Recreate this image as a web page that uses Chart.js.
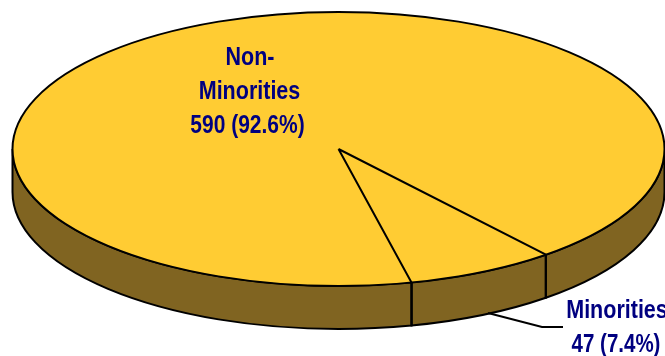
<!DOCTYPE html>
<html>
<head>
<meta charset="utf-8">
<title>Minorities pie</title>
<script src="https://cdn.jsdelivr.net/npm/chart.js@4"></script>
<style>
html, body { margin: 0; padding: 0; background: #fff; }
canvas { display: block; }
</style>
</head>
<body>
<canvas id="pieChart" width="665" height="356"></canvas>
<script>
const categories = ['Minorities', 'Non-Minorities'];
const counts = [47, 590];
const percents = ['7.4', '92.6'];
const topColors = ['#FFCC33', '#FFCC33'];
const sideColors = ['#806421', '#806421'];

// the pie is drawn flat by Chart.js, this tilts it and adds the wall
const SQUASH = 137 / 326;
const DEPTH = 43;

// narrow bold text, the original font is tighter than Liberation Sans
function narrowText(ctx, text, x, y, sx) {
    ctx.save();
    ctx.translate(x, y);
    ctx.scale(sx, 1);
    ctx.fillText(text, 0, 0);
    ctx.restore();
}

const tiltedPie = {
    id: 'tiltedPie',
    beforeDatasetsDraw(chart) {
        const ctx = chart.ctx;
        const arcs = chart.getDatasetMeta(0).data;
        const cx = arcs[0].x, cy = arcs[0].y, rx = arcs[0].outerRadius, ry = rx * SQUASH;
        ctx.save();
        ctx.lineWidth = 2;
        ctx.strokeStyle = '#000';
        arcs.forEach((arc, i) => {
            [0, Math.PI * 2].forEach(from => {
                const lo = Math.max(arc.startAngle, from);
                const hi = Math.min(arc.endAngle, from + Math.PI);
                if (lo >= hi) return;
                ctx.beginPath();
                ctx.ellipse(cx, cy, rx, ry, 0, lo, hi);
                ctx.ellipse(cx, cy + DEPTH, rx, ry, 0, hi, lo, true);
                ctx.closePath();
                ctx.fillStyle = sideColors[i];
                ctx.fill();
                ctx.stroke();
            });
        });
        ctx.restore();
        ctx.save();
        ctx.translate(0, cy);
        ctx.scale(1, SQUASH);
        ctx.translate(0, -cy);
    },
    afterDatasetsDraw(chart) {
        const ctx = chart.ctx;
        ctx.restore();
        const arcs = chart.getDatasetMeta(0).data;
        const cx = arcs[0].x, cy = arcs[0].y, rx = arcs[0].outerRadius, ry = rx * SQUASH;
        ctx.save();
        ctx.lineWidth = 2;
        ctx.strokeStyle = '#000';
        ctx.beginPath();
        ctx.ellipse(cx, cy, rx, ry, 0, 0, Math.PI * 2);
        ctx.stroke();
        ctx.beginPath();
        arcs.forEach(arc => {
            const px = cx + rx * Math.cos(arc.startAngle);
            const py = cy + ry * Math.sin(arc.startAngle);
            ctx.moveTo(cx, cy);
            ctx.lineTo(px, py);
            ctx.lineTo(px, py + DEPTH);
        });
        ctx.stroke();
        ctx.restore();
    },
    afterDraw(chart) {
        const ctx = chart.ctx;
        ctx.save();
        // leader line of the small slice
        ctx.strokeStyle = '#000';
        ctx.lineWidth = 2;
        ctx.beginPath();
        ctx.moveTo(488, 313);
        ctx.lineTo(542, 327);
        ctx.lineTo(563, 327);
        ctx.stroke();

        ctx.fillStyle = '#000080';
        ctx.textAlign = 'center';
        ctx.textBaseline = 'alphabetic';
        ctx.font = 'bold 25px "Liberation Sans", Arial, sans-serif';
        narrowText(ctx, 'Non-', 250, 65, 0.86);
        narrowText(ctx, categories[0], 249.5, 99, 0.86);
        narrowText(ctx, counts[1] + ' (' + percents[1] + '%)', 247.5, 133, 0.84);
        narrowText(ctx, categories[0], 617, 318, 0.86);
        narrowText(ctx, counts[0] + ' (' + percents[0] + '%)', 616, 352, 0.82);
        ctx.restore();
    }
};

const pieCtx = document.getElementById('pieChart').getContext('2d');
new Chart(pieCtx, {
    type: 'pie',
    data: {
        labels: categories,
        datasets: [{
            data: counts,
            backgroundColor: topColors,
            borderWidth: 0,
            clip: false
        }]
    },
    options: {
        responsive: false,
        animation: false,
        radius: 326,
        rotation: 140.5,
        layout: { padding: { left: 12, bottom: 58 } },
        plugins: {
            legend: { display: false },
            tooltip: { enabled: false }
        }
    },
    plugins: [tiltedPie]
});
</script>
</body>
</html>
